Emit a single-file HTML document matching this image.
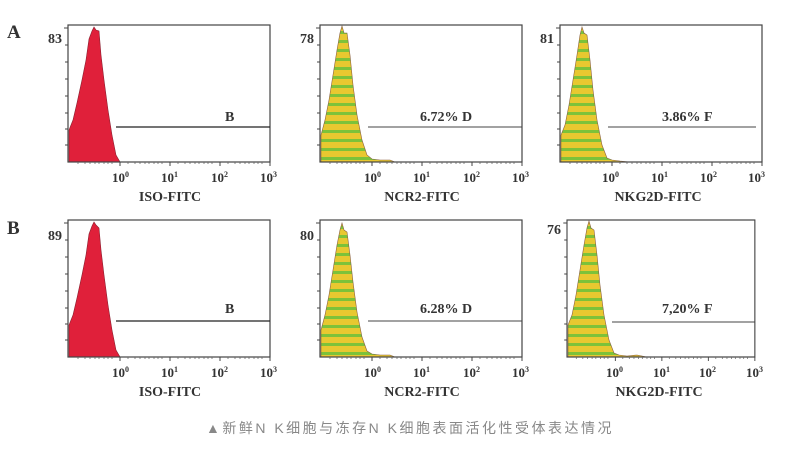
<!DOCTYPE html>
<html><head><meta charset="utf-8"><style>
html,body{margin:0;padding:0;background:#fff;}
svg{display:block}
text{font-family:"Liberation Serif",serif;font-weight:bold;fill:#333}
</style></head><body>
<svg width="786" height="449" viewBox="0 0 786 449" xmlns="http://www.w3.org/2000/svg">
<defs>
<pattern id="st" width="10" height="9" patternUnits="userSpaceOnUse">
<rect width="10" height="9" fill="#e8c830"/><rect y="6" width="10" height="3" fill="#7cc23a"/>
</pattern>
<g id="axes">
<rect x="0" y="0" width="202" height="137" fill="none" stroke="#444" stroke-width="1.2"/>
<g stroke="#444" stroke-width="1">
<line x1="-4" y1="3" x2="0" y2="3"/><line x1="-3" y1="20" x2="0" y2="20"/><line x1="-3" y1="37" x2="0" y2="37"/><line x1="-3" y1="54" x2="0" y2="54"/><line x1="-3" y1="71" x2="0" y2="71"/><line x1="-3" y1="88" x2="0" y2="88"/><line x1="-3" y1="104" x2="0" y2="104"/><line x1="-3" y1="120" x2="0" y2="120"/>
<line x1="52" y1="137" x2="52" y2="141"/><line x1="102" y1="137" x2="102" y2="141"/><line x1="152" y1="137" x2="152" y2="141"/><line x1="202" y1="137" x2="202" y2="141"/>
</g>
<path d="M10 137v2M17 137v2M22 137v2M27 137v2M31 137v2M36 137v2M40 137v2M44 137v2M60 137v2M67 137v2M72 137v2M77 137v2M81 137v2M86 137v2M90 137v2M94 137v2M110 137v2M117 137v2M122 137v2M127 137v2M131 137v2M136 137v2M140 137v2M144 137v2M160 137v2M167 137v2M172 137v2M177 137v2M181 137v2M186 137v2M190 137v2M194 137v2" stroke="#666" stroke-width="0.8"/>
</g>
</defs>

<text x="7" y="38" font-size="19">A</text>
<text x="7" y="234" font-size="19">B</text>

<g transform="translate(68,25)">
<path d="M1 137 L1 105 L5 95 L9 78 L14 55 L18 35 L21 14 L24 6 L26 2 L28 5 L31 6 L33 30 L36 55 L40 85 L44 110 L48 130 L52 137 Z" fill="#e0203a" stroke="#8a2030" stroke-width="0.6"/>
<use href="#axes"/>
<line x1="48" y1="102" x2="202" y2="102" stroke="#222" stroke-width="1.2"/>
<text x="157" y="96" font-size="14">B</text>
<text x="44" y="157" font-size="13">10<tspan font-size="8" dy="-5">0</tspan></text>
<text x="93" y="157" font-size="13">10<tspan font-size="8" dy="-5">1</tspan></text>
<text x="143" y="157" font-size="13">10<tspan font-size="8" dy="-5">2</tspan></text>
<text x="192" y="157" font-size="13">10<tspan font-size="8" dy="-5">3</tspan></text>
<text x="102" y="176" font-size="14" text-anchor="middle">ISO-FITC</text>
<text x="-6" y="18" font-size="14" text-anchor="end">83</text>
</g>

<g transform="translate(320,25)">
<path d="M1 137 L1 110 L5 95 L9 75 L13 50 L17 25 L20 8 L22 1 L24 8 L27 8 L30 30 L33 60 L37 90 L42 115 L47 130 L52 134 L60 135 L70 135 L75 137 Z" fill="url(#st)" stroke="#8a6040" stroke-width="0.6"/>
<use href="#axes"/>
<line x1="48" y1="102" x2="202" y2="102" stroke="#444" stroke-width="1"/>
<text x="100" y="96" font-size="14">6.72%  D</text>
<text x="44" y="157" font-size="13">10<tspan font-size="8" dy="-5">0</tspan></text>
<text x="93" y="157" font-size="13">10<tspan font-size="8" dy="-5">1</tspan></text>
<text x="143" y="157" font-size="13">10<tspan font-size="8" dy="-5">2</tspan></text>
<text x="192" y="157" font-size="13">10<tspan font-size="8" dy="-5">3</tspan></text>
<text x="102" y="176" font-size="14" text-anchor="middle">NCR2-FITC</text>
<text x="-6" y="18" font-size="14" text-anchor="end">78</text>
</g>

<g transform="translate(560,25)">
<path d="M1 137 L1 110 L5 100 L9 80 L13 55 L17 30 L20 10 L22 2 L24 8 L27 10 L30 35 L33 65 L37 95 L42 120 L47 133 L52 135 L60 136 L70 137 Z" fill="url(#st)" stroke="#8a6040" stroke-width="0.6"/>
<use href="#axes"/>
<line x1="48" y1="102" x2="196" y2="102" stroke="#444" stroke-width="1"/>
<text x="102" y="96" font-size="14">3.86%  F</text>
<text x="42" y="157" font-size="13">10<tspan font-size="8" dy="-5">0</tspan></text>
<text x="91" y="157" font-size="13">10<tspan font-size="8" dy="-5">1</tspan></text>
<text x="140" y="157" font-size="13">10<tspan font-size="8" dy="-5">2</tspan></text>
<text x="188" y="157" font-size="13">10<tspan font-size="8" dy="-5">3</tspan></text>
<text x="98" y="176" font-size="14" text-anchor="middle">NKG2D-FITC</text>
<text x="-6" y="18" font-size="14" text-anchor="end">81</text>
</g>

<g transform="translate(68,220)">
<path d="M1 137 L1 105 L5 95 L9 78 L14 55 L18 35 L21 14 L24 6 L26 2 L28 5 L31 8 L33 30 L36 55 L40 85 L44 110 L48 130 L52 137 Z" fill="#e0203a" stroke="#8a2030" stroke-width="0.6"/>
<use href="#axes"/>
<line x1="48" y1="101" x2="202" y2="101" stroke="#222" stroke-width="1.2"/>
<text x="157" y="93" font-size="14">B</text>
<text x="44" y="157" font-size="13">10<tspan font-size="8" dy="-5">0</tspan></text>
<text x="93" y="157" font-size="13">10<tspan font-size="8" dy="-5">1</tspan></text>
<text x="143" y="157" font-size="13">10<tspan font-size="8" dy="-5">2</tspan></text>
<text x="192" y="157" font-size="13">10<tspan font-size="8" dy="-5">3</tspan></text>
<text x="102" y="176" font-size="14" text-anchor="middle">ISO-FITC</text>
<text x="-6" y="20" font-size="14" text-anchor="end">89</text>
</g>

<g transform="translate(320,220)">
<path d="M1 137 L1 110 L5 95 L9 75 L13 50 L17 25 L20 10 L22 3 L24 10 L27 12 L30 35 L33 62 L37 92 L42 117 L47 131 L52 134 L60 135 L70 135 L75 137 Z" fill="url(#st)" stroke="#8a6040" stroke-width="0.6"/>
<use href="#axes"/>
<line x1="48" y1="101" x2="202" y2="101" stroke="#444" stroke-width="1"/>
<text x="100" y="93" font-size="14">6.28%  D</text>
<text x="44" y="157" font-size="13">10<tspan font-size="8" dy="-5">0</tspan></text>
<text x="93" y="157" font-size="13">10<tspan font-size="8" dy="-5">1</tspan></text>
<text x="143" y="157" font-size="13">10<tspan font-size="8" dy="-5">2</tspan></text>
<text x="192" y="157" font-size="13">10<tspan font-size="8" dy="-5">3</tspan></text>
<text x="102" y="176" font-size="14" text-anchor="middle">NCR2-FITC</text>
<text x="-6" y="20" font-size="14" text-anchor="end">80</text>
</g>

<g transform="translate(567,220)">
<path d="M1 137 L1 105 L5 95 L9 75 L13 50 L17 25 L20 8 L22 1 L24 8 L27 10 L30 35 L33 65 L37 95 L42 120 L47 133 L52 135 L60 136 L70 135 L80 137 Z" fill="url(#st)" stroke="#8a6040" stroke-width="0.6"/>
<use href="#axes" transform="scale(0.93,1)"/>
<line x1="45" y1="102" x2="188" y2="102" stroke="#444" stroke-width="1"/>
<text x="95" y="93" font-size="14">7,20%  F</text>
<text x="39" y="157" font-size="13">10<tspan font-size="8" dy="-5">0</tspan></text>
<text x="86" y="157" font-size="13">10<tspan font-size="8" dy="-5">1</tspan></text>
<text x="132" y="157" font-size="13">10<tspan font-size="8" dy="-5">2</tspan></text>
<text x="179" y="157" font-size="13">10<tspan font-size="8" dy="-5">3</tspan></text>
<text x="92" y="176" font-size="14" text-anchor="middle">NKG2D-FITC</text>
<text x="-6" y="14" font-size="14" text-anchor="end">76</text>
</g>

<text x="410" y="433" font-size="14" text-anchor="middle" style="font-family:'Liberation Sans','Noto Sans CJK SC',sans-serif;font-weight:normal;fill:#888;letter-spacing:2.5px">▲新鲜N K细胞与冻存N K细胞表面活化性受体表达情况</text>
</svg>
</body></html>
